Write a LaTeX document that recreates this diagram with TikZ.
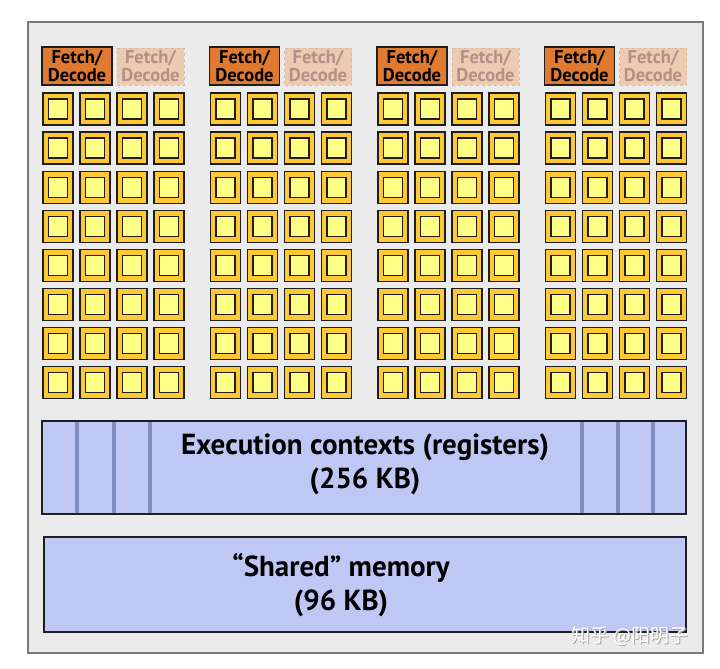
\documentclass[tikz,border=0pt]{standalone}
\usepackage{fontspec}
\setmainfont{PT Sans}
\newfontfamily\cjk{Noto Sans CJK SC}
\definecolor{outerfill}{HTML}{EBEBEB}
\definecolor{outerline}{HTML}{7A7A7A}
\definecolor{fdorange}{HTML}{E07A30}
\definecolor{fdlight}{HTML}{ECCBB3}
\definecolor{fdlighttext}{HTML}{B58F88}
\definecolor{fdlightline}{HTML}{DDBBA3}
\definecolor{coreout}{HTML}{FFC934}
\definecolor{corein}{HTML}{FFFF85}
\definecolor{regfill}{HTML}{BFC8F4}
\definecolor{regsep}{HTML}{7F8DC0}
\definecolor{darkline}{HTML}{1E1E1E}
\tikzset{
  fdbox/.style={draw=darkline, line width=1.2pt, fill=fdorange, minimum width=70pt, minimum height=38pt, inner sep=0pt, align=center, font=\bfseries\fontsize{18.5}{18}\selectfont, text=black},
  fdghost/.style={draw=fdlightline, dashed, line width=0.8pt, fill=fdlight, minimum width=67pt, minimum height=37pt, inner sep=0pt, align=center, font=\bfseries\fontsize{18.5}{18}\selectfont, text=fdlighttext},
  corebox/.style={draw=darkline, line width=1.3pt, fill=coreout, minimum width=30pt, minimum height=32pt, inner sep=0pt},
  coreinner/.style={draw=darkline, line width=1.3pt, fill=corein, minimum width=19pt, minimum height=20pt, inner sep=0pt},
  membox/.style={draw=darkline, line width=1.2pt, fill=regfill, inner sep=0pt},
  sepline/.style={draw=regsep, line width=4pt},
  bigtext/.style={font=\bfseries\fontsize{29}{34}\selectfont, align=center, text=black}
}
\begin{document}
\begin{tikzpicture}[x=1pt,y=-1pt]
\useasboundingbox (0,0) rectangle (720,669);
\fill[white] (0,0) rectangle (720,669);
% outer SM box
\node[draw=outerline, line width=1.5pt, fill=outerfill, minimum width=675pt, minimum height=631pt, inner sep=0pt] (sm) at (365.5,337.5) {};
% groups
\foreach \g in {0,1,2,3}{
  \pgfmathsetmacro{\gx}{42+167.5*\g}
  \node[fdbox] (fd\g) at ({\gx+35},66) {Fetch/\\Decode};
  \node[fdghost] (fdg\g) at ({\gx+108.5},66.5) {Fetch/\\Decode};
  \foreach \r in {0,...,7}{
    \foreach \c in {0,1,2,3}{
      \pgfmathsetmacro{\cx}{\gx+16+37*\c}
      \pgfmathsetmacro{\cy}{109+39.1*\r}
      \node[corebox] (core-\g-\r-\c) at (\cx,\cy) {};
      \node[coreinner] (corein-\g-\r-\c) at (core-\g-\r-\c.center) {};
    }
  }
}
% execution contexts
\node[membox, minimum width=643pt, minimum height=93pt] (regs) at (364,467.5) {};
\foreach \x [count=\i] in {77,114,150,582,618,653}{
  \coordinate (st\i) at (\x,{467.5-45.5});
  \coordinate (sb\i) at (\x,{467.5+45.5});
  \draw[sepline] (st\i) -- (sb\i);
}
\draw[darkline, line width=1.2pt] (regs.north west) rectangle (regs.south east);
\node[bigtext] (regtext) at (365,464) {Execution contexts (registers)\\(256 KB)};
% shared memory
\node[membox, minimum width=642pt, minimum height=95pt] (shm) at (365,584.5) {};
\node[bigtext] (shmtext) at (341,585) {“Shared” memory\\(96 KB)};
% watermark
\node[text=gray!70, font=\cjk\fontsize{19}{19}\selectfont, anchor=west] (wmshadow) at (569.2,637.2) {知乎 @阳明子};
\node[text=white, font=\cjk\fontsize{19}{19}\selectfont, anchor=west] (wm) at (568,636) {知乎 @阳明子};
\end{tikzpicture}
\end{document}
